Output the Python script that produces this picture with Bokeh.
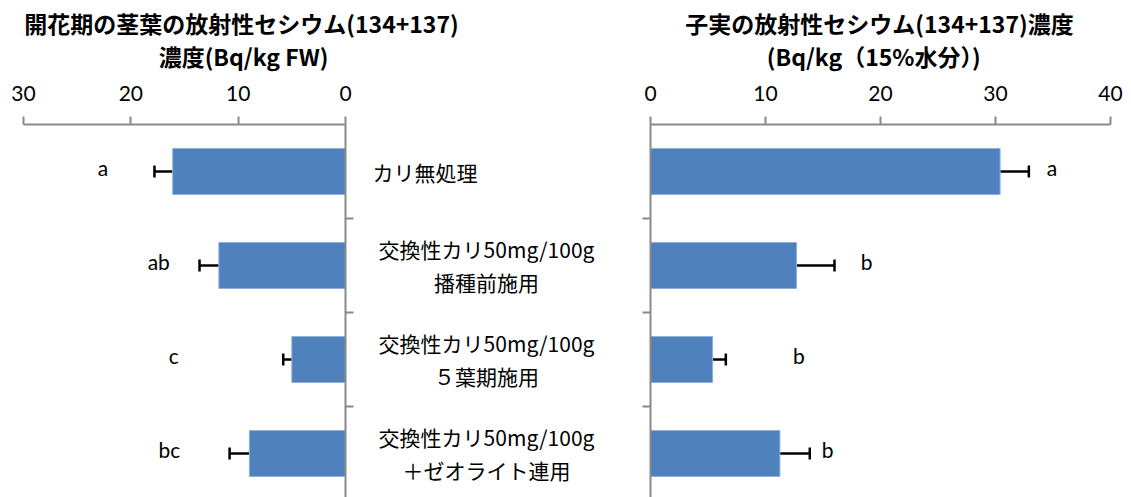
from bokeh.plotting import figure
from bokeh.layouts import column, row
from bokeh.models import Range1d, FixedTicker, Whisker, TeeHead, ColumnDataSource
from bokeh.core.properties import value
from bokeh.embed import file_html
from bokeh.resources import INLINE

# ---------------- data ----------------
categories = [
    "カリ無処理",
    "交換性カリ50mg/100g\n播種前施用",
    "交換性カリ50mg/100g\n５葉期施用",
    "交換性カリ50mg/100g\n＋ゼオライト連用",
]
stem_values = [16.1, 11.8, 5.0, 8.95]
stem_errors = [1.7, 1.8, 0.8, 1.85]
stem_letters = ["a", "ab", "c", "bc"]
grain_values = [30.4, 12.7, 5.4, 11.25]
grain_errors = [2.5, 3.3, 1.15, 2.6]
grain_letters = ["a", "b", "b", "b"]
stem_ticks = [0, 10, 20, 30]
grain_ticks = [0, 10, 20, 30, 40]
stem_title = ["開花期の茎葉の放射性セシウム(134+137)", "濃度(Bq/kg FW)"]
grain_title = ["子実の放射性セシウム(134+137)濃度", "(Bq/kg（15%水分）)"]

# letter label positions (annotation placement, in axis units)
stem_letter_x = [22.6, 17.4, 16.0, 16.4]
grain_letter_x = [34.9, 18.8, 12.9, 15.4]

# ---------------- layout constants ----------------
BLUE = "#4F81BD"
AXIS = "#898989"
LATIN = "Lato"
CJK = "Noto Sans CJK JP"
TITLE_H = 74
H = 497 - TITLE_H
FRAME_H = 373
CAT_PX = 94
Y_END = FRAME_H / CAT_PX
n = len(categories)
ys = [i + 0.5 for i in range(n)]
letter_ys = [y - 0.04 for y in ys]
boundaries = [i for i in range(1, n)]


def style_axes(p, xticks):
    xa = p.xaxis[0]
    xa.ticker = FixedTicker(ticks=xticks)
    xa.major_tick_out = 8
    xa.major_tick_in = 0
    xa.minor_tick_line_color = None
    xa.axis_line_color = AXIS
    xa.axis_line_width = 2
    xa.major_tick_line_color = AXIS
    xa.major_tick_line_width = 2
    xa.major_label_text_font = LATIN
    xa.major_label_text_font_size = "21px"
    xa.major_label_text_color = "black"
    xa.major_label_standoff = 16
    ya = p.yaxis[0]
    ya.ticker = FixedTicker(ticks=boundaries)
    ya.major_label_overrides = {b: "" for b in boundaries}
    ya.major_label_text_font_size = "0px"
    ya.major_tick_out = 8
    ya.major_tick_in = 0
    ya.minor_tick_line_color = None
    ya.axis_line_color = AXIS
    ya.axis_line_width = 2
    ya.major_tick_line_color = AXIS
    ya.major_tick_line_width = 2
    p.grid.visible = False
    p.outline_line_color = None


def make_panel(width, xr, bl, br, yloc, vals, errs, letters, letter_x, xticks):
    p = figure(width=width, height=H, x_range=xr, y_range=Range1d(Y_END, 0),
               x_axis_location="above", y_axis_location=yloc,
               output_backend="svg", toolbar_location=None,
               min_border_left=bl, min_border_right=br,
               min_border_top=124 - TITLE_H, min_border_bottom=0)
    src = ColumnDataSource(dict(
        y=ys, v=vals,
        hi=[v + e for v, e in zip(vals, errs)],
    ))
    p.hbar(y="y", left=0, right="v", height=0.49, source=src,
           fill_color=BLUE, line_color="#8fb0d8", line_width=1)
    w = Whisker(base="y", lower="v", upper="hi", dimension="width", source=src,
                line_color="black", line_width=2.5, lower_head=None,
                upper_head=TeeHead(size=12, line_width=2.5, line_color="black"))
    p.add_layout(w)
    p.text(x=letter_x, y=letter_ys, text=letters, text_font=value(LATIN),
           text_font_size="21px", text_align="center", text_baseline="middle",
           text_color="black")
    style_axes(p, xticks)
    return p


left = make_panel(360, Range1d(30, 0), 23, 15, "right",
                  stem_values, stem_errors, stem_letters, stem_letter_x, stem_ticks)
right = make_panel(501, Range1d(0, 40), 20, 21, "left",
                   grain_values, grain_errors, grain_letters, grain_letter_x, grain_ticks)

# middle: category labels
mid = figure(width=270, height=H, x_range=Range1d(0, 270), y_range=Range1d(Y_END, 0),
             output_backend="svg", toolbar_location=None,
             min_border_left=0, min_border_right=0,
             min_border_top=124 - TITLE_H, min_border_bottom=0)
# single-line first label starts at the left edge of the label column
mid.text(x=[12], y=ys[:1], text=categories[:1], text_font=value(CJK),
         text_font_size="21px", text_align="left", text_baseline="middle",
         text_color="black")
mid.text(x=[126] * (n - 1), y=ys[1:], text=categories[1:], text_font=value(CJK),
         text_font_size="21px", text_align="center", text_baseline="middle",
         text_line_height=1.1, text_color="black")
mid.axis.visible = False
mid.grid.visible = False
mid.outline_line_color = None

# titles
tfig = figure(width=1131, height=TITLE_H, x_range=Range1d(0, 1131), y_range=Range1d(TITLE_H, 0),
              output_backend="svg", toolbar_location=None, min_border=0)
tfig.text(x=[241, 243, 879, 879], y=[22, 55, 22, 55],
          text=[stem_title[0], stem_title[1], grain_title[0], grain_title[1]],
          text_font=value(CJK), text_font_size="23px", text_font_style="bold",
          text_align="center", text_baseline="middle", text_color="black")
tfig.axis.visible = False
tfig.grid.visible = False
tfig.outline_line_color = None

layout = column(tfig, row(left, mid, right, spacing=0), spacing=0)
open("out.html", "w").write(file_html(layout, INLINE))
